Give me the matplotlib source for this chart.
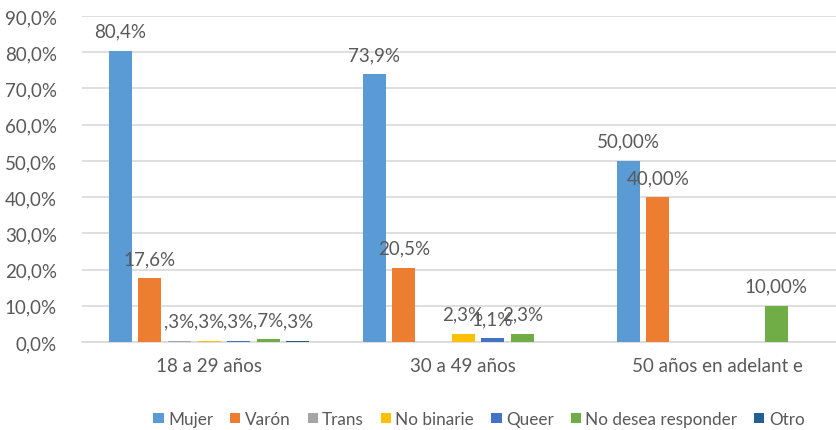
import matplotlib.pyplot as plt
import numpy as np

plt.rcParams['font.family'] = ['Lato', 'DejaVu Sans']

categories = ["18 a 29 años", "30 a 49 años", "50 años en adelant e"]
series = ["Mujer", "Varón", "Trans", "No binarie", "Queer", "No desea responder", "Otro"]
colors = ["#5B9BD5", "#ED7D31", "#A5A5A5", "#FFC000", "#4472C4", "#70AD47", "#255E91"]

values = [
    [80.4, 73.9, 50.0],   # Mujer
    [17.6, 20.5, 40.0],   # Varón
    [0.3, 0.0, 0.0],      # Trans
    [0.3, 2.3, 0.0],      # No binarie
    [0.3, 1.1, 0.0],      # Queer
    [0.7, 2.3, 10.0],     # No desea responder
    [0.3, 0.0, 0.0],      # Otro
]
labels = [
    ["80,4%", "73,9%", "50,00%"],
    ["17,6%", "20,5%", "40,00%"],
    [",3%", "", ""],
    [",3%", "2,3%", ""],
    [",3%", "1,1%", ""],
    [",7%", "2,3%", "10,00%"],
    [",3%", "", ""],
]
yticks = [0, 10, 20, 30, 40, 50, 60, 70, 80, 90]
ytick_labels = ["0,0%", "10,0%", "20,0%", "30,0%", "40,0%", "50,0%", "60,0%", "70,0%", "80,0%", "90,0%"]

text_color = "#595959"
fs = 13.5

fig = plt.figure(figsize=(8.37, 4.31), dpi=100)
ax = fig.add_axes([82 / 837, (431 - 343) / 431, 762 / 837, (343 - 17) / 431])

x = np.arange(len(categories))
slot = 29.6 / 254
width = 23 / 254
for i, (name, vals, labs, c) in enumerate(zip(series, values, labels, colors)):
    pos = x + (i - 3) * slot
    vals = np.array(vals)
    ax.bar(pos, vals, width=width, color=c, label=name, zorder=3)
    for p, v, lab in zip(pos, vals, labs):
        if lab:
            ax.annotate(lab, (p, v), xytext=(0, 8), textcoords="offset points",
                        ha="center", va="bottom", fontsize=fs, color=text_color, zorder=4)

ax.set_xlim(-0.5, 2.5)
ax.set_ylim(0, 90)
ax.set_yticks(yticks)
ax.set_yticklabels(ytick_labels)
ax.set_xticks(x)
ax.set_xticklabels(categories)
ax.yaxis.grid(True, color="#D9D9D9", linewidth=1.2, zorder=0)
for s in ["top", "right", "left"]:
    ax.spines[s].set_visible(False)
ax.spines["bottom"].set_color("#D9D9D9")
ax.spines["bottom"].set_linewidth(1.2)
ax.tick_params(axis="y", length=0, pad=18, labelsize=fs, labelcolor=text_color)
ax.tick_params(axis="x", length=0, pad=11, labelsize=fs, labelcolor=text_color)

fig.legend(loc="center", bbox_to_anchor=(479 / 837, 1 - 420 / 431), ncol=7, frameon=False,
           fontsize=12.3, labelcolor=text_color, handlelength=0.6, handleheight=0.6,
           handletextpad=0.25, columnspacing=1.0)

fig.savefig("out.png", dpi=100)
